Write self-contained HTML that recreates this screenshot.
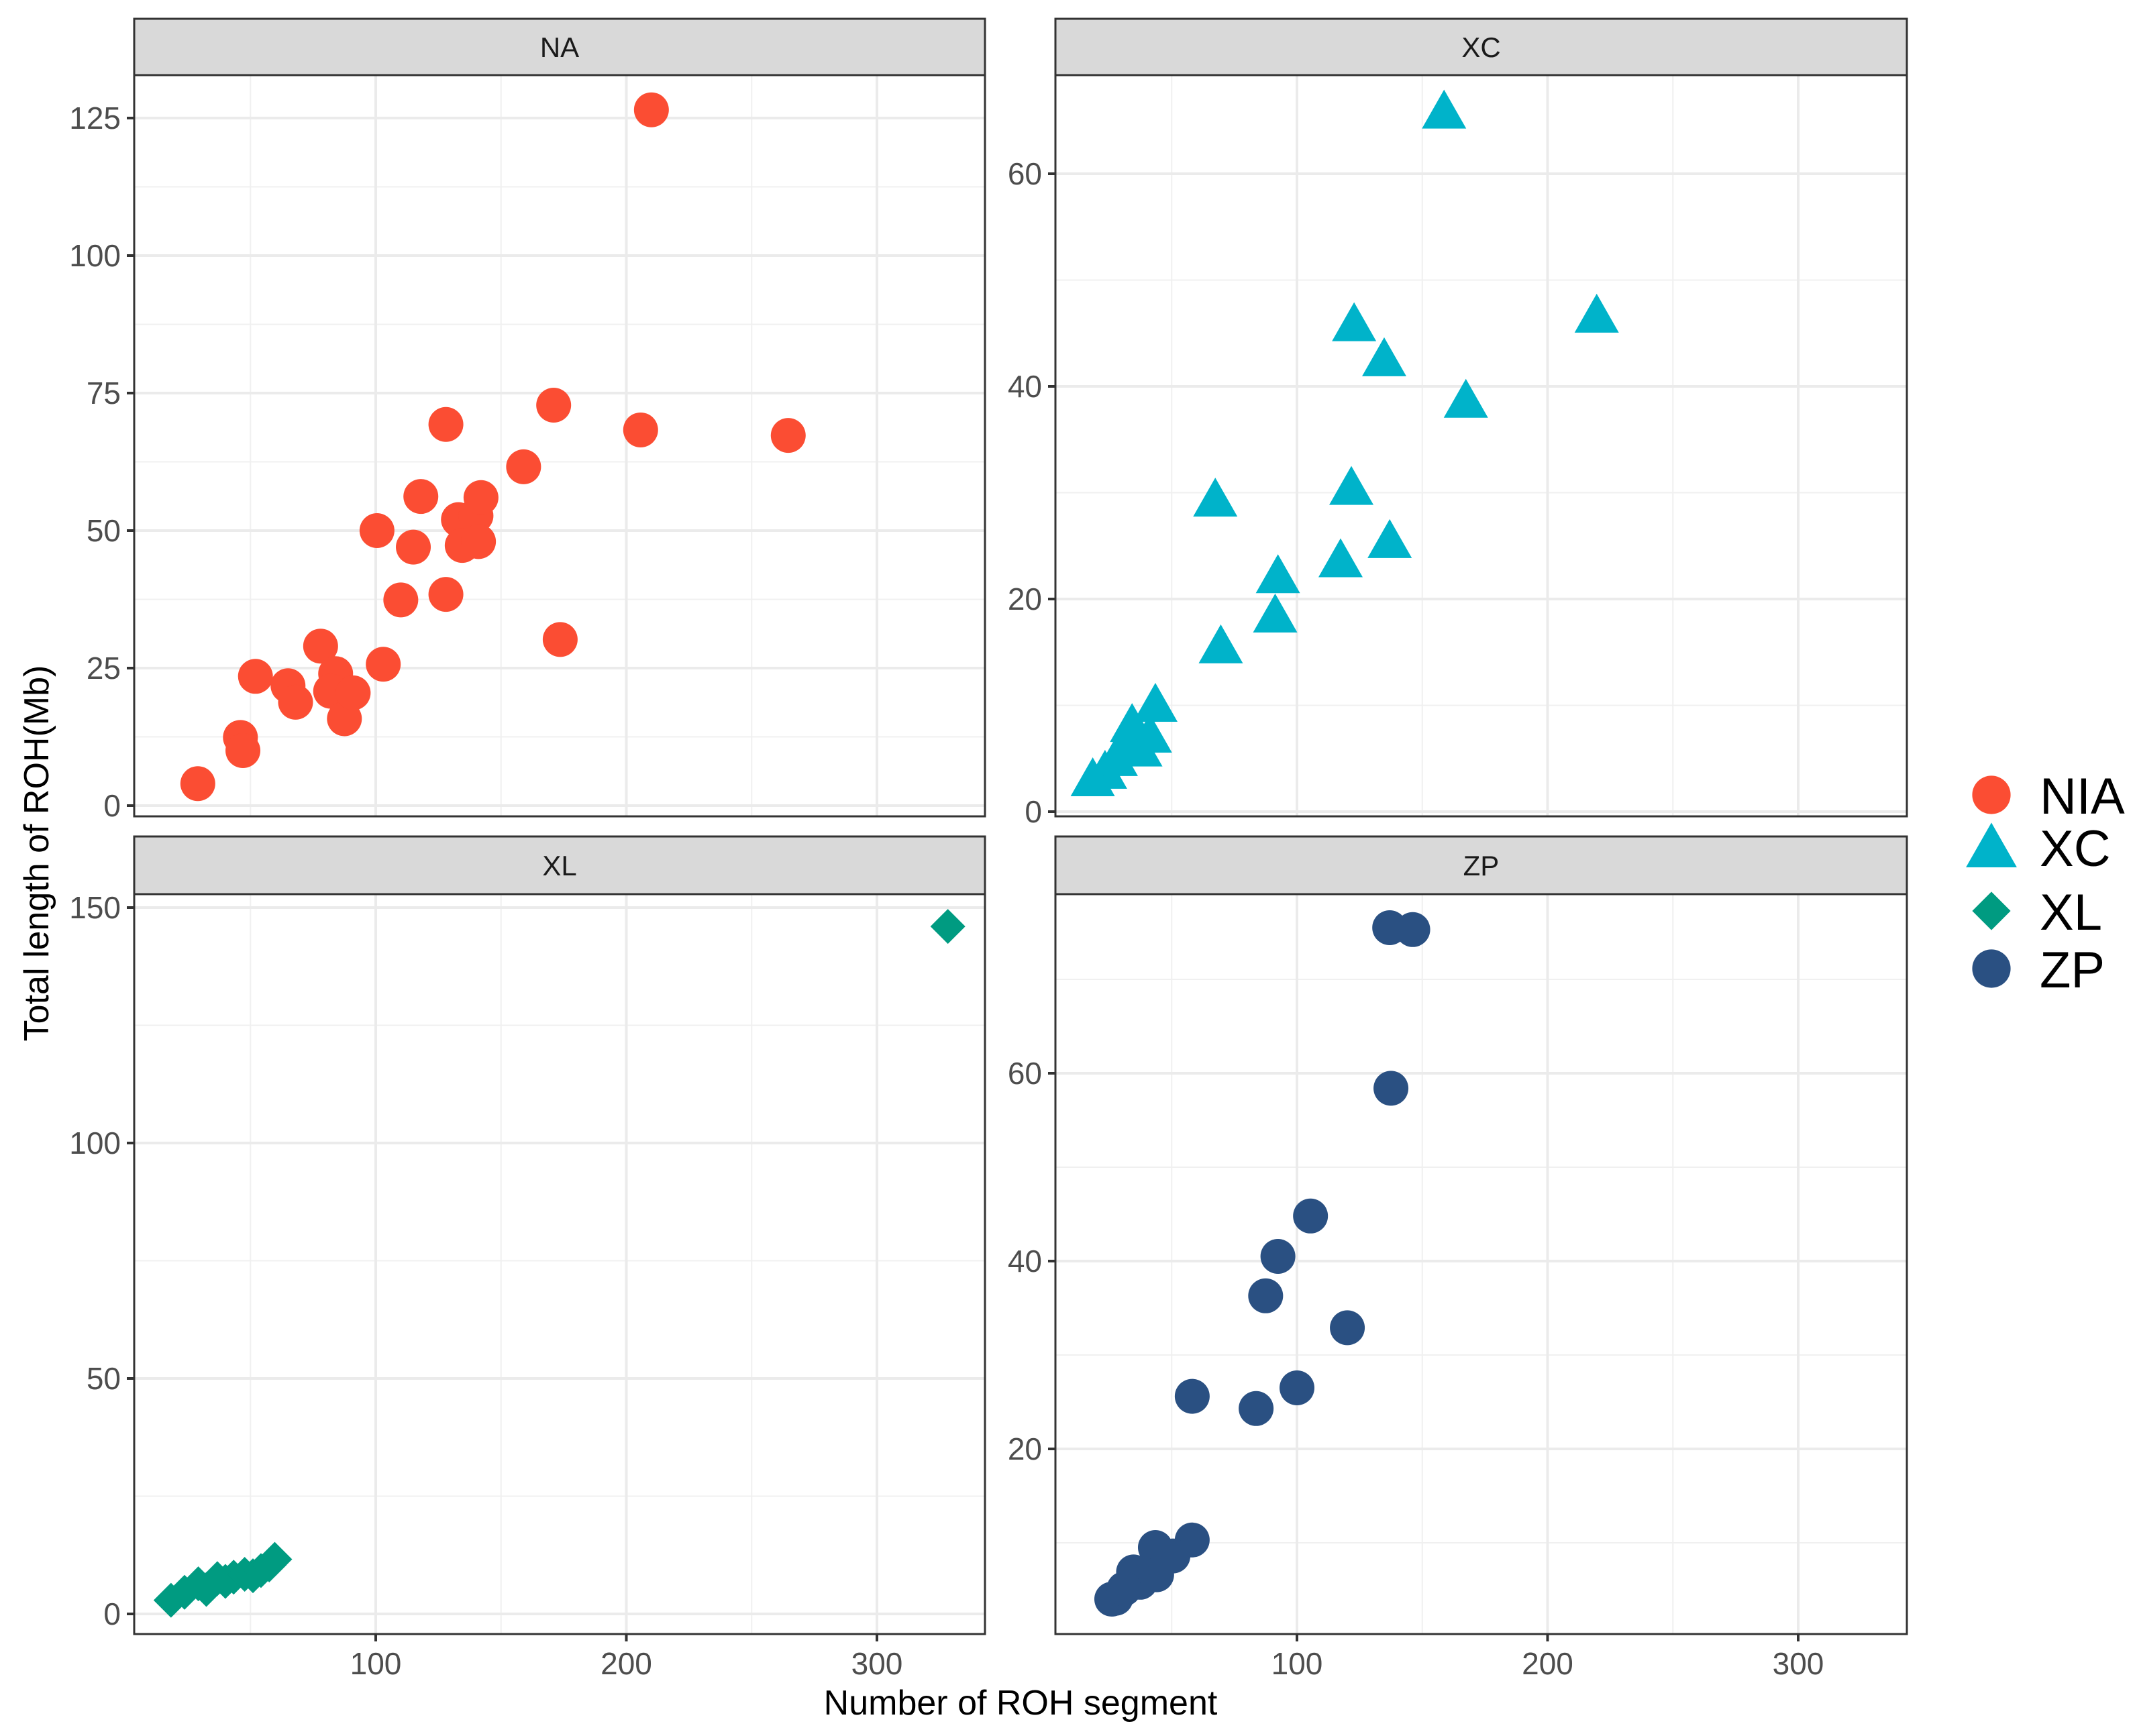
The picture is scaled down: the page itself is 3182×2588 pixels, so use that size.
<!DOCTYPE html>
<html><head><meta charset="utf-8"><style>
html,body{margin:0;padding:0;background:#fff;}
svg{display:block;font-family:"Liberation Sans",Arial,sans-serif;}
</style></head><body>
<svg id="chart" xmlns="http://www.w3.org/2000/svg" width="3182" height="2588" viewBox="0 0 3182 2588">
<rect width="3182" height="2588" fill="#fff"/>
<g id="panels"></g>
<text x="1521" y="2556" font-size="52" text-anchor="middle" fill="#000">Number of ROH segment</text>
<text transform="translate(72,1272) rotate(-90)" font-size="52" text-anchor="middle" fill="#000">Total length of ROH(Mb)</text>
<g id="legend"></g>
</svg>
<script>
const naX=[210,29,46,47,52,65,68,78,84,82,87.5,91,103,100.5,110,115,118,128,128,133,134.5,140,141,142,159,171,173.6,205.7,264.6];
const naY=[126.5,4,12.4,10,23.5,21.8,18.8,29,24,20.8,15.8,20.5,25.7,50,37.4,47,56.2,69.3,38.4,52,47.3,52.7,48,56,61.6,72.8,30.2,68.3,67.3];
const xcX=[158.7,122.8,134.8,219.6,167.4,67.4,121.7,92.4,117.4,137,91.3,69.6,43.5,34.2,41.3,37.5,27.7,23.4,18.5,32];
const xcY=[65.9,45.9,42.6,46.7,38.7,29.4,30.5,22.2,23.7,25.5,18.5,15.6,10.1,8.2,7.2,5.9,5,3.8,3.1,6.4];
const xlX=[328.3,18.3,23.7,29.2,32.4,36.8,40,43.3,47.7,51,54.2,57.5,59.7];
const xlY=[146,2.9,4.6,6.4,5.2,7.5,6.9,7.8,8.4,8.1,9.2,10.4,11.6];
const zpX=[137,146.2,137.5,105.4,92.4,87.5,120.1,58.2,100,83.7,58.2,50.5,43.5,44,34.8,37.5,27.7,26.1,31];
const zpY=[75.5,75.3,58.4,44.8,40.5,36.3,32.9,25.6,26.5,24.3,10.3,8.6,9.5,6.6,6.9,5.8,4.1,4.0,5.1];
const xTicks=[100,200,300];
const xMinor=[50,150,250];
const naTicks=[0,25,50,75,100,125];
const xcTicks=[0,20,40,60];
const xlTicks=[0,50,100,150];
const zpTicks=[20,40,60];
const groups=["NIA","XC","XL","ZP"];

const NS="http://www.w3.org/2000/svg";
const COL={NIA:"#FB4D33",XC:"#00B3CA",XL:"#009B81",ZP:"#2A5082"};
function el(tag,attrs,parent){const e=document.createElementNS(NS,tag);for(const k in attrs)e.setAttribute(k,attrs[k]);parent.appendChild(e);return e;}
function marker(g,shape,cx,cy,color,s){
  let m;
  if(shape==="circle"){m=el("circle",{cx:cx,cy:cy,r:26*s,fill:color},g);}
  else if(shape==="tri"){const w=33*s,h=58*s;m=el("polygon",{points:`${cx},${cy-h*0.55} ${cx-w},${cy+h*0.45} ${cx+w},${cy+h*0.45}`,fill:color},g);}
  else {const d=26*s;m=el("polygon",{points:`${cx},${cy-d} ${cx+d},${cy} ${cx},${cy+d} ${cx-d},${cy}`,fill:color},g);}
  return m;
}
const root=document.getElementById("panels");
const panels=[
 {name:"NA",key:"na",x0:200,x1:1468,st:28,top:112,bot:1217,xs:v=>186.5+v*3.735,ys:v=>1201-v*8.2,ticks:naTicks,minorStep:12.5,ymax:135,X:naX,Y:naY,shape:"circle",col:COL.NIA,xlab:false},
 {name:"XC",key:"xc",x0:1573,x1:2842,st:28,top:112,bot:1217,xs:v=>1559.5+v*3.735,ys:v=>1210-v*15.85,ticks:xcTicks,minorStep:10,ymax:75,X:xcX,Y:xcY,shape:"tri",col:COL.XC,xlab:false},
 {name:"XL",key:"xl",x0:200,x1:1468,st:1247,top:1333,bot:2436,xs:v=>186.5+v*3.735,ys:v=>2406-v*7.02,ticks:xlTicks,minorStep:25,ymax:160,X:xlX,Y:xlY,shape:"dia",col:COL.XL,xlab:true},
 {name:"ZP",key:"zp",x0:1573,x1:2842,st:1247,top:1333,bot:2436,xs:v=>1559.5+v*3.735,ys:v=>2440-v*14,ticks:zpTicks,minorStep:10,ymax:80,X:zpX,Y:zpY,shape:"circle",col:COL.ZP,xlab:true}
];
panels.forEach(p=>{
  const g=el("g",{},root);
  
  
  const clipId="clip-"+p.key;
  const cp=el("clipPath",{id:clipId},g);el("rect",{x:p.x0,y:p.top,width:p.x1-p.x0,height:p.bot-p.top},cp);
  const grid=el("g",{"clip-path":`url(#${clipId})`},g);
  
  
  for(let v=p.minorStep; v<p.ymax; v+=p.minorStep*2){const y=p.ys(v);el("line",{x1:p.x0,x2:p.x1,y1:y,y2:y,stroke:"#f0f0f0","stroke-width":2},grid);}
  xMinor.forEach(v=>{const x=p.xs(v);el("line",{x1:x,x2:x,y1:p.top,y2:p.bot,stroke:"#f0f0f0","stroke-width":2},grid);});
  p.ticks.forEach(v=>{const y=p.ys(v);el("line",{x1:p.x0,x2:p.x1,y1:y,y2:y,stroke:"#ebebeb","stroke-width":4},grid);});
  xTicks.forEach(v=>{const x=p.xs(v);el("line",{x1:x,x2:x,y1:p.top,y2:p.bot,stroke:"#ebebeb","stroke-width":4},grid);});
  const pts=el("g",{"clip-path":`url(#${clipId})`},g);
  
  
  p.X.forEach((xv,i)=>{const m=marker(pts,p.shape,p.xs(xv),p.ys(p.Y[i]),p.col,1);
    
    });
  const border=el("rect",{x:p.x0,y:p.top,width:p.x1-p.x0,height:p.bot-p.top,fill:"none",stroke:"#333","stroke-width":3},g);
  
  
  const strip=el("rect",{x:p.x0,y:p.st,width:p.x1-p.x0,height:p.top-p.st,fill:"#d9d9d9",stroke:"#333","stroke-width":3},g);
  
  
  const st=el("text",{x:(p.x0+p.x1)/2,y:(p.st+p.top)/2+15,"font-size":42,"text-anchor":"middle",fill:"#1a1a1a"},g);
  st.textContent=p.name;
  
  
  p.ticks.forEach(v=>{const y=p.ys(v);
    el("line",{x1:p.x0-11,x2:p.x0,y1:y,y2:y,stroke:"#333","stroke-width":4},g);
    const t=el("text",{x:p.x0-20,y:y+16,"font-size":46,"text-anchor":"end",fill:"#4d4d4d"},g);
    t.textContent=v;
    
    });
  if(p.xlab){xTicks.forEach(v=>{const x=p.xs(v);
    el("line",{x1:x,x2:x,y1:p.bot,y2:p.bot+11,stroke:"#333","stroke-width":4},g);
    const t=el("text",{x:x,y:p.bot+60,"font-size":46,"text-anchor":"middle",fill:"#4d4d4d"},g);
    t.textContent=v;
    
    });}
});
const lg=document.getElementById("legend");
const lgY=[1185,1263,1358,1444];
const lgShape=["circle","tri","dia","circle"];
groups.forEach((gname,i)=>{
  const item=el("g",{},lg);
  
  
  marker(item,lgShape[i],2968,lgY[i],COL[gname],lgShape[i]==="tri"?1.15:1.1);
  const t=el("text",{x:3040,y:lgY[i]+28,"font-size":76,fill:"#000"},item);
  t.textContent=gname;
});
</script>
</body></html>
